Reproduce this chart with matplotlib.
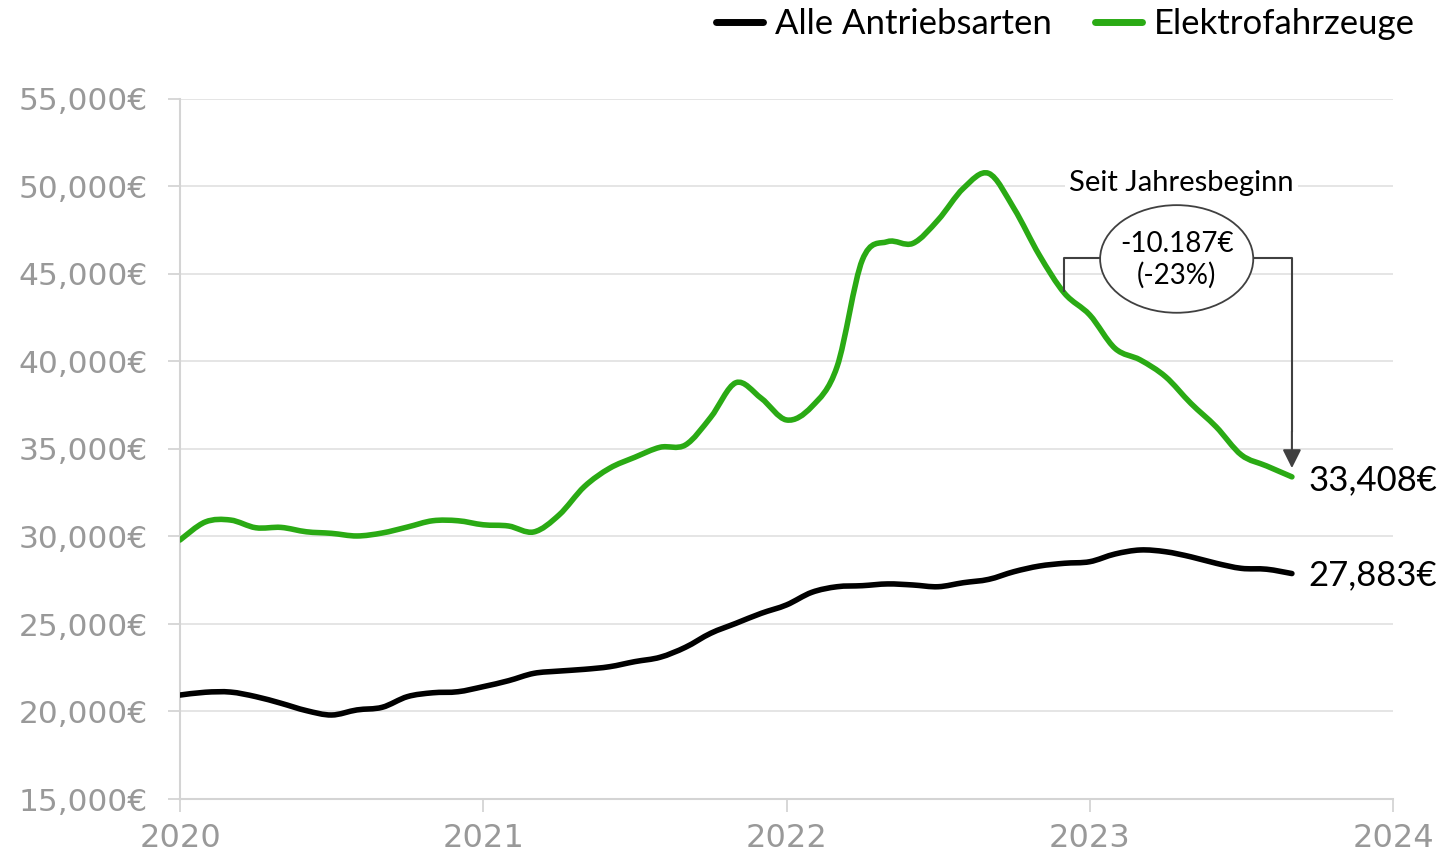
import matplotlib
matplotlib.use("Agg")
import matplotlib.pyplot as plt
from matplotlib.patches import Ellipse, PathPatch
from matplotlib.path import Path
from matplotlib.lines import Line2D
from matplotlib.ticker import FuncFormatter

# Monthly data Jan 2020 .. Sep 2023
months = [f"{y}-{m:02d}" for y in (2020, 2021, 2022, 2023) for m in range(1, 13)][:45]

alle = [20940, 21100, 21110, 20850, 20470, 20050, 19800, 20090, 20240, 20850,
        21070, 21130, 21420, 21760, 22180, 22310, 22410, 22560, 22850, 23100,
        23670, 24470, 25040, 25610, 26090, 26810, 27130, 27190, 27290, 27230,
        27130, 27360, 27550, 27990, 28310, 28470, 28560, 29000, 29230, 29130,
        28840, 28470, 28180, 28130, 27883]

elektro = [29800, 30830, 30940, 30500, 30520, 30270, 30180, 30030, 30200, 30540,
           30900, 30900, 30670, 30600, 30260, 31230, 32850, 33900, 34530, 35100,
           35230, 36810, 38790, 37900, 36660, 37420, 39700, 45800, 46850, 46750,
           48090, 49900, 50750, 48750, 46090, 43900, 42660, 40750, 40090, 39130,
           37610, 36270, 34660, 34030, 33408]

series_names = ["Alle Antriebsarten", "Elektrofahrzeuge"]
year_ticks = [2020, 2021, 2022, 2023, 2024]
y_ticks = [15000, 20000, 25000, 30000, 35000, 40000, 45000, 50000, 55000]

start_label = "Seit Jahresbeginn"
change_label = "-10.187€\n(-23%)"

def month_pos(s):
    y, m = s.split("-")
    return int(y) + (int(m) - 1) / 12

x = [month_pos(s) for s in months]

GREEN = "#2aaa14"
GRID = "#e3e3e3"
TICKC = "#999999"
DARK = "#404040"
CAL = ["Lato", "DejaVu Sans"]


def smooth_path(xs, ys):
    """Excel-like smoothed line: Catmull-Rom segments drawn as cubic Beziers."""
    pts = list(zip(xs, ys))
    n = len(pts)
    verts = [pts[0]]
    codes = [Path.MOVETO]
    for i in range(n - 1):
        p0 = pts[i - 1] if i > 0 else pts[i]
        p1 = pts[i]
        p2 = pts[i + 1]
        p3 = pts[i + 2] if i + 2 < n else pts[i + 1]
        c1 = (p1[0] + (p2[0] - p0[0]) / 6, p1[1] + (p2[1] - p0[1]) / 6)
        c2 = (p2[0] - (p3[0] - p1[0]) / 6, p2[1] - (p3[1] - p1[1]) / 6)
        verts += [c1, c2, p2]
        codes += [Path.CURVE4] * 3
    return Path(verts, codes)


fig = plt.figure(figsize=(14.42, 8.63), dpi=100)
ax = fig.add_axes([180 / 1442, 1 - 799 / 863, (1393 - 180) / 1442, (799 - 99) / 863])

for ys, col in ((alle, "black"), (elektro, GREEN)):
    ax.add_patch(PathPatch(smooth_path(x, ys), facecolor="none", edgecolor=col, lw=4.0,
                           joinstyle="round", capstyle="round", zorder=3))

ax.set_xlim(2020, 2024)
ax.set_ylim(15000, 55000)
ax.set_xticks(year_ticks)
ax.set_xticklabels([str(t) for t in year_ticks])
ax.set_yticks(y_ticks)
ax.yaxis.set_major_formatter(FuncFormatter(lambda v, p: f"{int(v):,}€"))
ax.grid(axis="y", color=GRID, lw=1.3, zorder=0)
for s in ("top", "right"):
    ax.spines[s].set_visible(False)
for s in ("left", "bottom"):
    ax.spines[s].set_color("#d4d4d4")
    ax.spines[s].set_linewidth(1.5)
ax.tick_params(axis="both", colors="#d4d4d4", width=1.3, length=9, labelcolor=TICKC)
ax.tick_params(axis="y", pad=14, labelsize=22.5)
ax.tick_params(axis="x", pad=8, labelsize=23)

# Legend
handles = [Line2D([], [], color="black", lw=5, solid_capstyle="round"),
           Line2D([], [], color=GREEN, lw=5, solid_capstyle="round")]
fig.legend(handles, series_names, loc="upper right", bbox_to_anchor=(1.003, 1.027), ncol=2,
           frameon=False, prop={"family": CAL, "size": 25}, handlelength=1.35,
           handletextpad=0.35, columnspacing=1.25)

# End labels
ax.text(x[-1] + 0.055, elektro[-1] - 200, f"{elektro[-1]:,}€", fontsize=25, family=CAL,
        va="center", ha="left", color="black")
ax.text(x[-1] + 0.055, alle[-1] - 100, f"{alle[-1]:,}€", fontsize=25, family=CAL,
        va="center", ha="left", color="black")

# Bracket annotation
i0 = 35
yb = 45900
ax.plot([x[i0], x[i0], x[-1], x[-1]], [elektro[i0] + 100, yb, yb, 36000],
        color=DARK, lw=1.5, zorder=4)
ax.annotate("", xy=(x[-1], elektro[-1] + 500), xytext=(x[-1], 36000),
            arrowprops=dict(arrowstyle="-|>", color=DARK, lw=1.5, mutation_scale=28,
                            shrinkA=0, shrinkB=0), zorder=4)
ex = (x[i0] + x[-1]) / 2 - 0.005
ell = Ellipse((ex, 45860), width=0.505, height=6150, facecolor="white",
              edgecolor=DARK, lw=1.3, zorder=5)
ax.add_patch(ell)
ax.text(ex, 45800, change_label, ha="center", va="center", fontsize=20, family=CAL,
        linespacing=1.2, zorder=6)
ax.text(ex + 0.015, 50200, start_label, ha="center", va="center", fontsize=21, family=CAL,
        zorder=6, bbox=dict(facecolor="white", edgecolor="none", pad=3))

fig.savefig("out.png", dpi=100)
